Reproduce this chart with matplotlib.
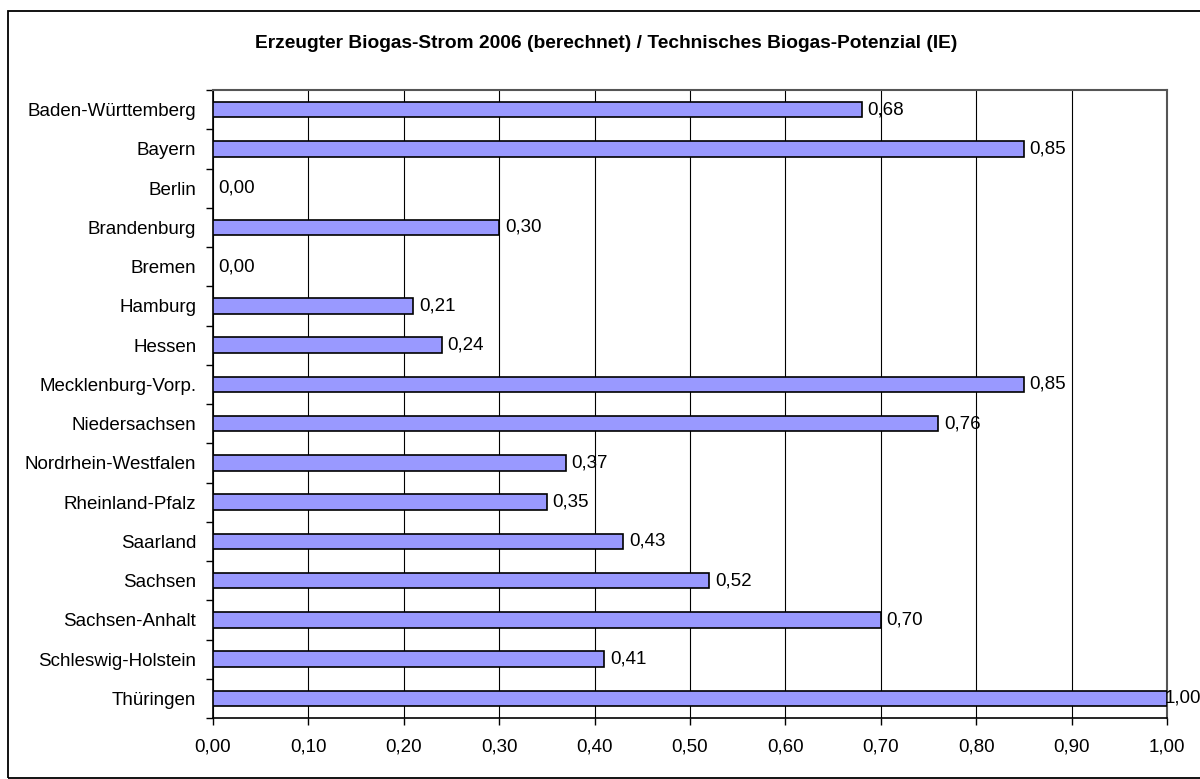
import matplotlib
matplotlib.use("Agg")
import matplotlib.pyplot as plt
from matplotlib.patches import Rectangle

laender = ["Baden-Württemberg", "Bayern", "Berlin", "Brandenburg", "Bremen",
           "Hamburg", "Hessen", "Mecklenburg-Vorp.", "Niedersachsen",
           "Nordrhein-Westfalen", "Rheinland-Pfalz", "Saarland", "Sachsen",
           "Sachsen-Anhalt", "Schleswig-Holstein", "Thüringen"]
werte = [0.68, 0.85, 0.00, 0.30, 0.00, 0.21, 0.24, 0.85, 0.76,
         0.37, 0.35, 0.43, 0.52, 0.70, 0.41, 1.00]
xticks = [i / 10 for i in range(11)]

plt.rcParams["font.family"] = ["Liberation Sans", "DejaVu Sans"]
FS = 13.5

W, H = 1200, 779
fig = plt.figure(figsize=(W / 100, H / 100), dpi=100)
fig.patch.set_facecolor("white")

# äußerer Rahmen (rechts über den Bildrand hinaus)
fig.patches.append(Rectangle((8 / W, 1.5 / H), 1.0, (H - 12.5) / H,
                             transform=fig.transFigure, fill=False,
                             edgecolor="black", lw=1.3))

ax = fig.add_axes([213 / W, 1 - 718 / H, (1167 - 213) / W, (718 - 90) / H])
y = list(range(len(laender)))
ax.barh(y, werte, height=0.4, color="#9999FF", edgecolor="black", lw=1.2, zorder=3)

# Beschriftung rechts neben dem Balken, am Bildrand nach links geschoben
for yi, v in zip(y, werte):
    ax.text(min(v + 0.006, 0.997), yi, f"{v:.2f}".replace(".", ","),
            va="center", ha="left", fontsize=FS, zorder=4, clip_on=False)

ax.set_xlim(0, 1.0)
ax.set_ylim(len(laender) - 0.5, -0.5)
ax.set_xticks(xticks)
ax.set_xticklabels([f"{t:.2f}".replace(".", ",") for t in xticks], fontsize=FS)
ax.set_yticks(y)
ax.set_yticklabels(laender, fontsize=FS)
ax.set_yticks([i - 0.5 for i in range(len(laender) + 1)], minor=True)
ax.tick_params(axis="y", which="major", length=0, pad=12)
ax.tick_params(axis="y", which="minor", length=5, width=1, direction="out")
ax.tick_params(axis="x", length=5, width=1, direction="out", pad=10)
ax.grid(axis="x", color="black", lw=0.8, zorder=0)
for s in ["top", "right"]:
    ax.spines[s].set_color("#555555")
    ax.spines[s].set_linewidth(1.5)
ax.spines["left"].set_linewidth(1.2)
ax.spines["bottom"].set_linewidth(1.2)

fig.text(606 / W, 1 - 43 / H,
         "Erzeugter Biogas-Strom 2006 (berechnet) / Technisches Biogas-Potenzial (IE)",
         ha="center", va="center", fontsize=13.8, fontweight="bold")

fig.savefig("out.png", dpi=100, facecolor="white")
